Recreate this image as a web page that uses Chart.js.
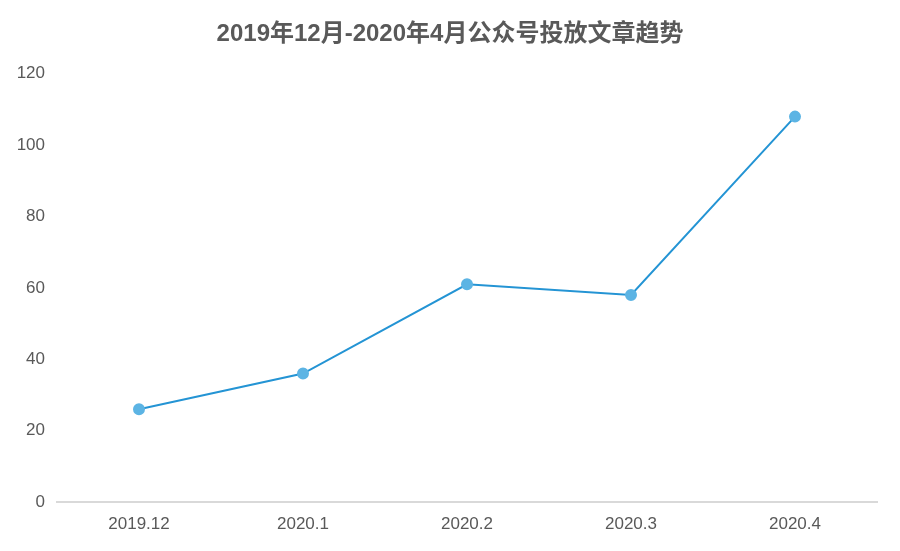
<!DOCTYPE html>
<html>
<head>
<meta charset="utf-8">
<script src="https://cdn.jsdelivr.net/npm/chart.js@4/dist/chart.umd.min.js"></script>
<style>
    html, body { margin: 0; padding: 0; background: #ffffff; }
    #wrap { width: 900px; height: 551px; position: relative; }
</style>
</head>
<body>
<div id="wrap"><canvas id="myChart"></canvas></div>
<script>
const months = ['2019.12', '2020.1', '2020.2', '2020.3', '2020.4'];
const articleCounts = [26, 36, 61, 58, 108];
const yTicks = [0, 20, 40, 60, 80, 100, 120];

const fontFamily = '"Liberation Sans", Arial, "Noto Sans CJK SC", sans-serif';

// keep the title centred on the whole canvas, not the padded area
const centerTitle = {
    id: 'centerTitle',
    afterLayout: function(chart) {
        const t = chart.titleBlock;
        if (t) {
            t.left = 0;
            t.right = chart.width;
            t.width = chart.width;
        }
    }
};

const data = {
    labels: months,
    datasets: [{
        label: '公众号投放文章',
        data: articleCounts,
        borderColor: '#2494d4',
        borderWidth: 2,
        pointBackgroundColor: '#5cb4e4',
        pointBorderColor: '#5cb4e4',
        pointRadius: 5,
        pointHoverRadius: 5,
        tension: 0,
        fill: false
    }]
};

const config = {
    type: 'line',
    data: data,
    plugins: [centerTitle],
    options: {
        responsive: true,
        maintainAspectRatio: false,
        animation: false,
        layout: {
            padding: { left: 0, right: 23, top: 0, bottom: 0 }
        },
        scales: {
            x: {
                offset: true,
                grid: { display: false, drawTicks: false },
                border: { display: true, color: '#d9d9d9', width: 2 },
                ticks: {
                    color: '#595959',
                    font: { family: fontFamily, size: 17 },
                    padding: 12,
                    maxRotation: 0
                },
                afterFit: function(scale) { scale.height = 49; }
            },
            y: {
                min: 0,
                max: 120,
                afterBuildTicks: function(scale) {
                    scale.ticks = yTicks.map(v => ({ value: v }));
                },
                grid: { display: false, drawTicks: false },
                border: { display: false },
                ticks: {
                    color: '#595959',
                    font: { family: fontFamily, size: 17 },
                    padding: 12
                },
                afterFit: function(scale) { scale.width = 57; }
            }
        },
        plugins: {
            legend: { display: false },
            tooltip: { enabled: false },
            title: {
                display: true,
                text: '2019年12月-2020年4月公众号投放文章趋势',
                color: '#595959',
                font: { family: fontFamily, size: 24, weight: 'bold', lineHeight: 1.2 },
                padding: { top: 20, bottom: 25 }
            }
        }
    }
};

const myChart = new Chart(document.getElementById('myChart'), config);
</script>
</body>
</html>
